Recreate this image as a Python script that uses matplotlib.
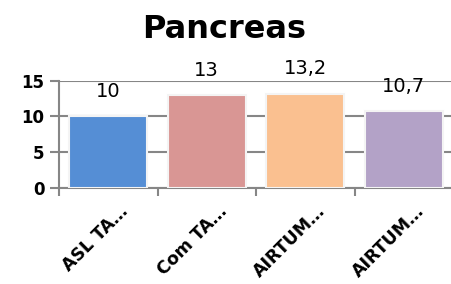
import matplotlib
matplotlib.use("Agg")
import matplotlib.pyplot as plt
from matplotlib.transforms import ScaledTranslation

categories = ["ASL TA…", "Com TA…", "AIRTUM…", "AIRTUM…"]
values = [10, 13, 13.2, 10.7]
value_labels = ["10", "13", "13,2", "10,7"]
colors = ["#558ed5", "#d99694", "#fac090", "#b3a2c7"]
title = "Pancreas"
yticks = [0, 5, 10, 15]

fig = plt.figure(figsize=(4.52, 2.84), dpi=100)
ax = fig.add_axes([59/452, 1-188/284, (453-59)/452, (188-80.7)/284])

x = list(range(len(categories)))
bars = ax.bar(x, values, width=0.79, color=colors, edgecolor="#f4f4f4", linewidth=1.5, zorder=3)
ax.set_xlim(-0.5, len(categories)-0.5)
ax.set_ylim(0, 15)
ax.set_yticks(yticks)
ax.set_yticklabels([str(t) for t in yticks], fontsize=12, fontweight="bold")
ax.yaxis.grid(True, color="#868686", linewidth=1.5, zorder=0)
ax.set_axisbelow(True)

for s in ["top", "right"]:
    ax.spines[s].set_visible(False)
for s in ["left", "bottom"]:
    ax.spines[s].set_color("#868686")
    ax.spines[s].set_linewidth(1.5)

ax.tick_params(axis="y", direction="out", length=6.5, width=1.5, color="#868686", pad=4)
ax.set_xticks([i - 0.5 for i in range(len(categories)+1)], minor=False)
ax.set_xticklabels([])
ax.tick_params(axis="x", which="major", direction="out", length=6, width=1.5, color="#868686")
ax.set_xticks(x, minor=True)
ax.set_xticklabels(categories, minor=True, rotation=45, ha="right", rotation_mode="anchor",
                   fontsize=12.5, fontweight="bold")
ax.tick_params(axis="x", which="minor", length=0, pad=10)
offset = ScaledTranslation(11/100, 0, fig.dpi_scale_trans)
for lbl in ax.get_xticklabels(minor=True):
    lbl.set_transform(lbl.get_transform() + offset)

for xi, v, lab in zip(x, values, value_labels):
    ax.annotate(lab, (xi, v), xytext=(0, 11), textcoords="offset points",
                ha="center", va="bottom", fontsize=14, clip_on=False)

fig.text(224/452, 1-29/284, title, ha="center", va="center", fontsize=23, fontweight="bold")

fig.savefig("out.png", dpi=100)
